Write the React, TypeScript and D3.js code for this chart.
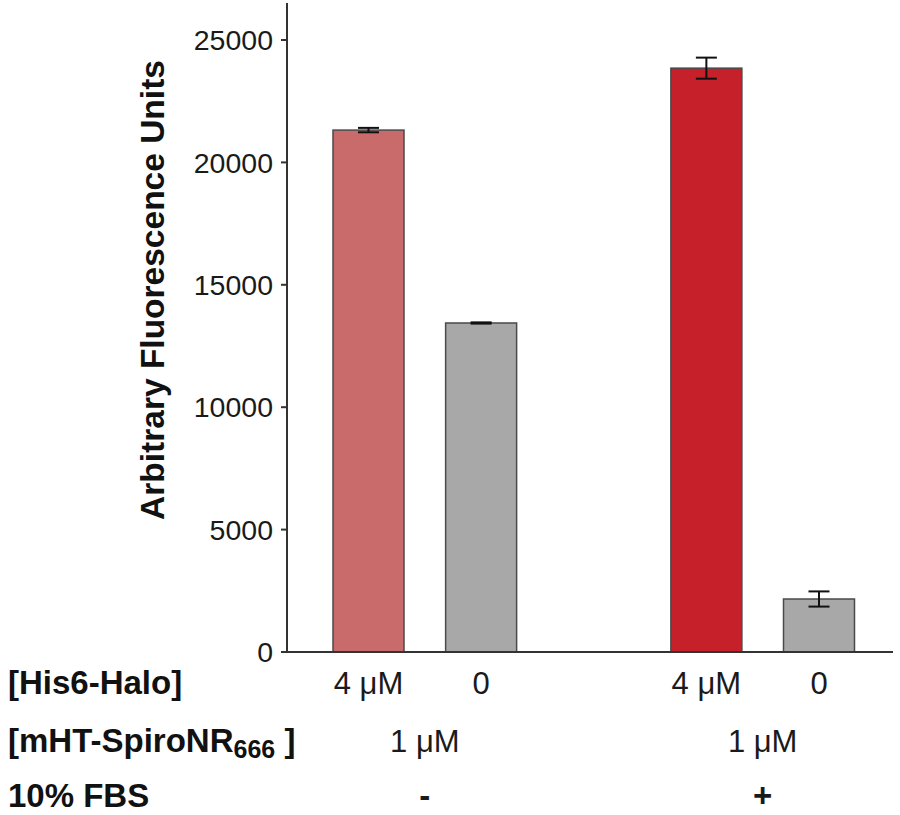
import React from "react";
import * as d3 from "d3";

const his6Labels = ["4 μM", "0", "4 μM", "0"];
const values = [21320, 13440, 23850, 2165];
const errors = [90, 25, 430, 310];
const slots = [0, 1, 3, 4];
const barColors = ["#c96b6b", "#a8a8a8", "#c6202a", "#a8a8a8"];
const yTicks = [0, 5000, 10000, 15000, 20000, 25000];
const groupSlots = [0.5, 3.5];
const probeLabels = ["1 μM", "1 μM"];
const fbsLabels = ["-", "+"];

const W = 900;
const H = 815;
const FONT = "'Liberation Sans', Arial, Helvetica, sans-serif";

export default function App() {
  const y = d3.scaleLinear().domain([0, 25000]).range([652, 40]);
  const x = d3.scaleLinear().domain([0, 4]).range([368.5, 819]);
  const barW = 71;
  const axisX = 287;
  const capW = 21;

  return (
    <svg
      width={W}
      height={H}
      style={{ position: "absolute", left: 0, top: 0, background: "#fff" }}
      fontFamily={FONT}
    >
      {values.map((v, i) => (
        <rect
          key={"b" + i}
          x={x(slots[i]) - barW / 2}
          y={y(v)}
          width={barW}
          height={y(0) - y(v)}
          fill={barColors[i]}
          stroke="#4a4a4a"
          strokeWidth={1.5}
        />
      ))}
      {values.map((v, i) => {
        const cx = x(slots[i]);
        const t = y(v + errors[i]);
        const b = y(v - errors[i]);
        return (
          <g key={"e" + i} stroke="#111" strokeWidth={2}>
            <line x1={cx} x2={cx} y1={t} y2={b} />
            <line x1={cx - capW / 2} x2={cx + capW / 2} y1={t} y2={t} />
            <line x1={cx - capW / 2} x2={cx + capW / 2} y1={b} y2={b} />
          </g>
        );
      })}
      <line x1={axisX} x2={axisX} y1={3} y2={y(0)} stroke="#333" strokeWidth={2} />
      {yTicks.map((t) => (
        <g key={"t" + t}>
          <line x1={axisX - 6} x2={axisX} y1={y(t)} y2={y(t)} stroke="#333" strokeWidth={2} />
          <text
            x={axisX - 14}
            y={y(t)}
            dy="0.36em"
            textAnchor="end"
            fontSize={28.5}
            fill="#1a1a1a"
          >
            {t}
          </text>
        </g>
      ))}
      <line x1={axisX - 6} x2={893} y1={y(0)} y2={y(0)} stroke="#333" strokeWidth={2} />
      <text
        transform={`translate(164, 290) rotate(-90)`}
        textAnchor="middle"
        fontSize={33.5}
        fontWeight="bold"
        fill="#111"
      >
        Arbitrary Fluorescence Units
      </text>
      <text x={8} y={694} fontSize={33} fontWeight="bold" fill="#111">
        [His6-Halo]
      </text>
      <text x={8} y={752} fontSize={33} fontWeight="bold" fill="#111">
        [mHT-SpiroNR
        <tspan fontSize={25} dy={6}>666</tspan>
        <tspan fontSize={33} dy={-6}> ]</tspan>
      </text>
      <text x={8} y={807} fontSize={33} fontWeight="bold" fill="#111">
        10% FBS
      </text>
      {his6Labels.map((l, i) => (
        <text
          key={"h" + i}
          x={x(slots[i])}
          y={694}
          textAnchor="middle"
          fontSize={31}
          fill="#1a1a1a"
        >
          {l}
        </text>
      ))}
      {probeLabels.map((l, i) => (
        <text
          key={"p" + i}
          x={x(groupSlots[i])}
          y={752}
          textAnchor="middle"
          fontSize={31}
          fill="#1a1a1a"
        >
          {l}
        </text>
      ))}
      {fbsLabels.map((l, i) => (
        <text
          key={"f" + i}
          x={x(groupSlots[i])}
          y={807}
          textAnchor="middle"
          fontSize={33}
          fontWeight="bold"
          fill="#1a1a1a"
        >
          {l}
        </text>
      ))}
    </svg>
  );
}
